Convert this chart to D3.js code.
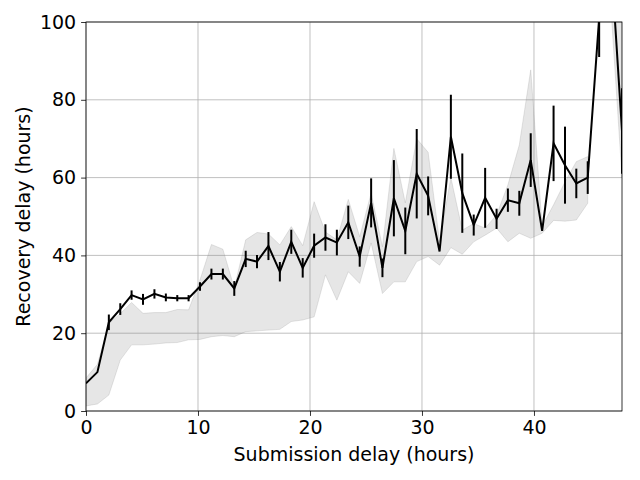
<!DOCTYPE html>
<html>
<head>
<meta charset="utf-8">
<script src="https://cdn.jsdelivr.net/npm/d3@7"></script>
<style>
    body { margin: 0; background: #fff; }
    text { font-family: "DejaVu Sans", sans-serif; }
</style>
</head>
<body>
<div class="viz"></div>
<script>
var margin = {top: 22, right: 18, bottom: 69, left: 86},
width = 640 - margin.left - margin.right,
height = 480 - margin.top - margin.bottom;

// submission delay bins (hours)
var delays = [0, 1.02, 2.04, 3.06, 4.07, 5.09, 6.11, 7.13, 8.15, 9.16,
    10.18, 11.2, 12.22, 13.24, 14.26, 15.27, 16.29, 17.31, 18.33, 19.35,
    20.37, 21.38, 22.4, 23.42, 24.44, 25.46, 26.47, 27.49, 28.51, 29.53,
    30.55, 31.57, 32.58, 33.6, 34.62, 35.64, 36.66, 37.67, 38.69, 39.71,
    40.73, 41.75, 42.77, 43.78, 44.8, 45.82, 46.84, 47.86]

// mean recovery delay
var meanRecovery = [7.1, 10.0, 22.8, 26.2, 29.8, 28.7, 30.1, 29.2, 29.0, 29.0,
    32.0, 35.2, 35.2, 31.5, 39.1, 38.4, 42.4, 35.8, 43.5, 36.8,
    42.5, 44.6, 43.3, 48.5, 39.7, 53.5, 36.8, 54.7, 46.3, 61.0,
    55.3, 41.0, 70.5, 56.0, 47.8, 54.8, 49.4, 54.2, 53.4, 64.5,
    46.3, 68.8, 63.2, 58.5, 60.0, 101, 118, 72]

// error bar half length
var errRecovery = [0, 0, 2.0, 1.5, 1.2, 1.4, 1.2, 1.0, 0.8, 0.8,
    1.1, 1.4, 1.4, 1.9, 2.1, 1.7, 3.6, 2.5, 3.1, 2.5,
    3.1, 3.4, 3.3, 4.3, 2.6, 6.3, 2.4, 9.8, 6.0, 11.5,
    5.0, 0, 10.8, 10.2, 2.7, 7.7, 2.6, 3.0, 3.2, 6.9,
    0, 9.7, 9.9, 3.8, 4.2, 10, 10, 11]

// shaded spread (null = no band for that bin)
var bandLow = [1.3, 1.8, 4.1, 13.1, 17.0, 17.0, 17.2, 17.5, 17.6, 18.3,
    18.4, 19.1, 19.4, 19.1, 20.4, 20.6, 20.8, 21.0, 23.0, 23.4,
    24.2, 35.0, 28.5, 35.8, 32.8, 43.2, 30.2, 33.2, 33.2, 38.4,
    39.7, 37.5, 42.0, 40.3, 43.5, 45.2, 47.0, 43.5, 45.7, 44.4,
    45.7, 49.0, 48.8, 49.1, 53.4, null, 105, 60]
var bandHigh = [8.5, 12.0, 22.5, 25.0, 27.9, 25.1, 25.3, 25.3, 26.1, 26.0,
    33.7, 42.8, 41.6, 31.6, 44.0, 45.9, 45.5, 42.7, 47.4, 42.5,
    53.8, 46.0, 44.0, 54.4, 44.8, 56.0, 42.2, 67.5, 53.5, 70.0,
    66.5, 43.5, 60.0, 46.5, 48.2, 47.0, 50.4, 58.1, 68.4, 87.7,
    47.5, 53.0, 58.9, 64.1, 65.4, null, 140, 130]

var xTicks = [0, 10, 20, 30, 40]
var yTicks = [0, 20, 40, 60, 80, 100]

var data = delays.map((d, i) => {
    return {x: d, y: meanRecovery[i], err: errRecovery[i], lo: bandLow[i], hi: bandHigh[i]}
})

var svg = d3.select(".viz").append("svg")
.attr("width", width + margin.left + margin.right)
.attr("height", height + margin.top + margin.bottom)
.append("g")
.attr("transform", "translate(" + margin.left + "," + margin.top + ")")

var xScale = d3.scaleLinear().domain([0, 47.86]).range([0, width])
var yScale = d3.scaleLinear().domain([0, 100]).range([height, 0])

svg.append("clipPath")
.attr("id", "clip")
.append("rect")
.attr("width", width)
.attr("height", height)

// grid
svg.append("g")
.attr("class", "grid")
.selectAll("line.gx")
.data(xTicks)
.enter().append("line")
.attr("x1", d => xScale(d)).attr("x2", d => xScale(d))
.attr("y1", 0).attr("y2", height)
.style("stroke", "#b0b0b0").style("stroke-width", 0.8)

svg.select(".grid")
.selectAll("line.gy")
.data(yTicks)
.enter().append("line")
.attr("x1", 0).attr("x2", width)
.attr("y1", d => yScale(d)).attr("y2", d => yScale(d))
.style("stroke", "#b0b0b0").style("stroke-width", 0.8)

var plot = svg.append("g").attr("clip-path", "url(#clip)")

var area = d3.area()
.defined(d => d.lo != null && d.hi != null)
.x(d => xScale(d.x))
.y0(d => yScale(d.lo))
.y1(d => yScale(d.hi))

plot.append("path")
.datum(data)
.attr("d", area)
.style("fill", "#808080")
.style("fill-opacity", 0.2)
.style("stroke", "#808080")
.style("stroke-opacity", 0.2)

var line = d3.line()
.x(d => xScale(d.x))
.y(d => yScale(d.y))

plot.append("path")
.datum(data)
.attr("d", line)
.style("fill", "none")
.style("stroke", "#000")
.style("stroke-width", 2)

plot.selectAll(".errbar")
.data(data.filter(d => d.err > 0))
.enter().append("line")
.attr("class", "errbar")
.attr("x1", d => xScale(d.x)).attr("x2", d => xScale(d.x))
.attr("y1", d => yScale(d.y - d.err))
.attr("y2", d => yScale(d.y + d.err))
.style("stroke", "#000")
.style("stroke-width", 2)

// axes
svg.append("g")
.attr("transform", "translate(0," + height + ")")
.call(d3.axisBottom(xScale).tickValues(xTicks).tickSize(4.9).tickPadding(4.9))

svg.append("g")
.call(d3.axisLeft(yScale).tickValues(yTicks).tickSize(4.9).tickPadding(4.9))

svg.selectAll(".domain").remove()
svg.selectAll(".tick line").style("stroke", "#000").style("stroke-width", 0.8)
svg.selectAll(".tick text")
.style("font-size", "19px")
.style("fill", "#000")
.style("font-family", "'DejaVu Sans', sans-serif")

// frame
svg.append("rect")
.attr("width", width)
.attr("height", height)
.style("fill", "none")
.style("stroke", "#000")
.style("stroke-width", 0.8)

svg.append("text")
.attr("x", width / 2)
.attr("y", height + 50)
.attr("text-anchor", "middle")
.style("font-size", "19px")
.text("Submission delay (hours)")

svg.append("text")
.attr("transform", "rotate(-90)")
.attr("x", -height / 2)
.attr("y", -56)
.attr("text-anchor", "middle")
.style("font-size", "19px")
.text("Recovery delay (hours)")
</script>
</body>
</html>
